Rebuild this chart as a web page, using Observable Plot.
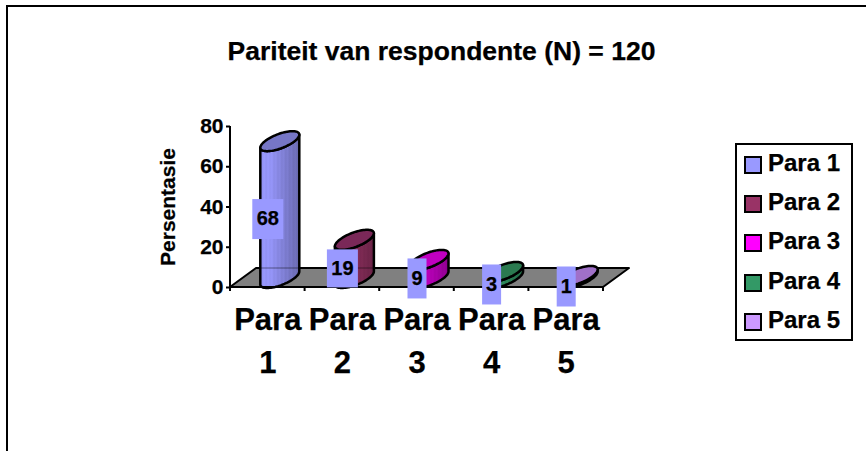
<!DOCTYPE html>
<html>
<head>
<meta charset="utf-8">
<script src="https://cdn.jsdelivr.net/npm/d3@7"></script>
<script src="https://cdn.jsdelivr.net/npm/@observablehq/plot@0.6"></script>
<style>
html,body{margin:0;padding:0;background:#fff;overflow:hidden;width:866px;height:451px}
body{position:relative;font-family:"Liberation Sans",Arial,sans-serif;color:#000}
#frame{position:absolute;left:6px;top:5px;width:880px;height:480px;border-left:2px solid #000;border-top:2px solid #000}
#title{position:absolute;left:0;width:883px;top:36px;text-align:center;font-size:26.5px;font-weight:bold;line-height:30px;white-space:nowrap;-webkit-text-stroke:.25px #000}
#legend{position:absolute;left:735px;top:143px;width:114px;height:194px;border:2px solid #000;background:#fff}
.row{position:absolute;left:7px;height:24px;font-size:24px;font-weight:bold;line-height:24px;white-space:nowrap;-webkit-text-stroke:.25px #000}
.sw{position:absolute;left:0;top:3px;width:14px;height:14px;border:2px solid #000}
.row span{position:absolute;left:24px;top:-2px}
#chart{position:absolute;left:0;top:0}
#chart svg text{stroke:#000;stroke-width:.25px}
</style>
</head>
<body>
<div id="frame"></div>
<div id="chart"></div>
<div id="title"></div>
<div id="legend"></div>
<script>
const titleText = "Pariteit van respondente (N) = 120";
const yLabel = "Persentasie";
const categories = ["Para 1", "Para 2", "Para 3", "Para 4", "Para 5"];
const values = [68, 19, 9, 3, 1];
const colors = ["#9999ff", "#993366", "#ff00ff", "#339966", "#cc99ff"];
const bodyColors = ["#9999ff", "#993366", "#d000d0", "#339966", "#9966cc"];
const topColors = ["#7676c6", "#7a2858", "#c000c0", "#2b7a50", "#a070c8"];
const yTicks = [0, 20, 40, 60, 80];
const data = categories.map((c, i) => ({c, v: values[i], i}));

document.getElementById("title").textContent = titleText;
const legend = document.getElementById("legend");
categories.forEach((c, i) => {
  const r = document.createElement("div");
  r.className = "row";
  r.style.top = (8 + i * 39.2) + "px";
  r.innerHTML = `<div class="sw" style="background:${colors[i]}"></div><span>${c}</span>`;
  legend.appendChild(r);
});

const NS = "http://www.w3.org/2000/svg";
const el = (doc, name, attrs) => {
  const e = doc.createElementNS(NS, name);
  for (const k in attrs) e.setAttribute(k, attrs[k]);
  return e;
};
const depth = {dx: 26, dy: -19};   // floor depth in pixels
const cyl = {dx: 12.5, dy: -9, a: 19.5, s: -6.5, b: 7.6};

// floor parallelogram under the bars
function floorMark(index, {x, y}, values, dims, {document: doc}) {
  const g = el(doc, "g", {});
  const x0 = x(categories[0]);
  const step = x(categories[1]) - x0;
  const x1 = x0 + step * categories.length;
  const y0 = y(0);
  const pts = [[x0, y0], [x1, y0], [x1 + depth.dx, y0 + depth.dy], [x0 + depth.dx, y0 + depth.dy]];
  g.appendChild(el(doc, "polygon", {points: pts.join(" "), fill: "#808080", stroke: "#000", "stroke-width": 2, "stroke-linejoin": "round"}));
  return g;
}

// cylinders, drawn from each bar's scaled value
const cylinders = {
  render(index, {x, y}, channels, dims, {document: doc}) {
    const g = el(doc, "g", {});
    const defs = el(doc, "defs", {});
    g.appendChild(defs);
    const bw = x.bandwidth ? x.bandwidth() : (x(categories[1]) - x(categories[0]));
    for (const i of index) {
      const d = data[i];
      const cx = x(d.c) + bw / 2 + cyl.dx;
      const yT = y(d.v) + cyl.dy, yB = y(0) + cyl.dy;
      const grad = el(doc, "linearGradient", {id: "g" + i, x1: 0, x2: 1, y1: 0, y2: 0});
      const n = 20;
      for (let k = 0; k <= n; k++) {
        const t = k / n;
        const dark = Math.max(0, (t - 0.25) / 0.75) * 0.95 + (k % 2 ? 0.14 : 0);
        grad.appendChild(el(doc, "stop", {offset: t, "stop-color": d3.rgb(bodyColors[i]).darker(dark).formatHex()}));
      }
      defs.appendChild(grad);
      const pt = (cy, t) => [cx + cyl.a * Math.cos(t), cy + cyl.s * Math.cos(t) + cyl.b * Math.sin(t)];
      const lower = d3.range(0, 41).map(k => k / 40 * Math.PI);
      const body = [
        ...lower.map(t => pt(yB, t)),
        ...lower.slice().reverse().map(t => pt(yT, t))
      ];
      const line = d3.line();
      g.appendChild(el(doc, "path", {d: line(body) + "Z", fill: `url(#g${i})`, stroke: "#000", "stroke-width": 2.5, "stroke-linejoin": "round"}));
      const top = d3.range(0, 81).map(k => pt(yT, k / 80 * 2 * Math.PI));
      g.appendChild(el(doc, "path", {d: line(top) + "Z", fill: topColors[i], stroke: "#000", "stroke-width": 2.5}));
    }
    return g;
  }
};

// axis lines and between-category ticks
function axisLines(index, {x, y}, values, dims, {document: doc}) {
  const g = el(doc, "g", {stroke: "#000", "stroke-width": 2});
  const x0 = x(categories[0]);
  const step = x(categories[1]) - x0;
  const y0 = y(0);
  const ln = (a, b, c, e, extra = {}) => g.appendChild(el(doc, "line", {x1: a, y1: b, x2: c, y2: e, ...extra}));
  ln(x0, y(80), x0, y0 + 4);
  ln(x0 - 1, y0, x0 + step * categories.length + 1, y0);
  d3.range(1, categories.length + 1).forEach(k => ln(x0 + k * step, y0, x0 + k * step, y0 + 4));
  ln(x0 + depth.dx, y0 + depth.dy, x0 + step * 2.5, y0 + depth.dy, {"stroke-opacity": 0.3, "stroke-width": 1.5});
  return g;
}

// value labels with their blue boxes
const labelBoxes = {
  render(index, scales, channels, dims, ctx, next) {
    const g = next(index, scales, channels, dims, ctx);
    const doc = ctx.document;
    const first = g.firstChild;
    for (const i of index) {
      const w = String(data[i].v).length > 1 ? 31 : 19;
      const h = data[i].v === 19 ? 38 : 40;
      g.insertBefore(el(doc, "rect", {x: channels.x[i] - w / 2, y: channels.y[i] - h / 2, width: w, height: h, fill: "#9999ff", stroke: "none"}), first);
    }
    return g;
  }
};

const plot = Plot.plot({
  width: 866,
  height: 451,
  marginLeft: 230,
  marginRight: 263,
  marginTop: 126,
  marginBottom: 164,
  style: {background: "transparent", overflow: "visible", fontFamily: '"Liberation Sans", Arial, sans-serif'},
  x: {type: "band", domain: categories, padding: 0, round: false, label: null},
  y: {domain: [0, 80], label: null},
  marks: [
    floorMark,
    Plot.barY(data, {x: "c", y: "v", ...cylinders}),
    axisLines,
    Plot.axisY({
      ticks: yTicks, tickSize: 4, tickPadding: 3, stroke: "#000", strokeWidth: 2,
      fontSize: 21, fontWeight: "bold", fill: "#000",
      label: yLabel, labelAnchor: "center", labelArrow: "none", labelOffset: 70
    }),
    Plot.axisX({
      tickSize: 0, tickPadding: 13, fontSize: 31, fontWeight: "bold", fill: "#000",
      lineHeight: 1.36, label: null, tickFormat: d => d.replace(" ", "\n")
    }),
    Plot.text(data, {
      x: "c", y: d => d.v / 2, text: d => String(d.v),
      fontSize: 20, fontWeight: "bold", fill: "#000", ...labelBoxes
    })
  ]
});
document.getElementById("chart").appendChild(plot);
</script>
</body>
</html>
